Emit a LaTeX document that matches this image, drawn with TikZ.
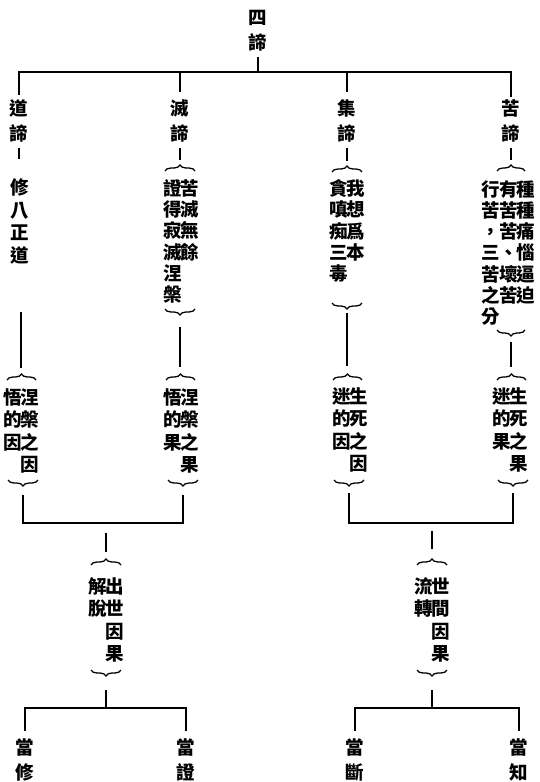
\documentclass[tikz,border=0pt]{standalone}
\usepackage{fontspec}
\newfontfamily\cjk{Noto Sans CJK TC}[LetterSpace=-6]
\usetikzlibrary{decorations.pathreplacing}

\begin{document}
\begin{tikzpicture}[x=1pt, y=-1pt, line width=1.8pt,
  lab/.style={font=\cjk\bfseries\fontsize{18.5}{25}\selectfont, inner sep=0pt, align=center},
  blk/.style={font=\cjk\bfseries\fontsize{18.5}{21.3}\selectfont, inner sep=0pt, align=left},
  blkb/.style={font=\cjk\bfseries\fontsize{18.5}{22.4}\selectfont, inner sep=0pt, align=right},
  brc/.style={decorate, decoration={brace, amplitude=6pt}, line width=1.3pt}]
\useasboundingbox (0,0) rectangle (540,782);

% Four truths
\node[lab] (si) at (258,30.5) {四\\諦};
\coordinate (top) at (258,72);
\node[lab] (dao) at (19,120.5) {道\\諦};
\node[lab] (mie) at (180,120.5) {滅\\諦};
\node[lab] (ji) at (347,120.5) {集\\諦};
\node[lab] (ku) at (511,120.5) {苦\\諦};
\draw[shorten <=5pt] (si.south) -- (top);
\draw[shorten <=3pt, shorten >=1pt] (dao.north) |- (top) -| (ku.north);
\draw[shorten >=6pt] (top -| mie) -- (mie.north);
\draw[shorten >=6pt] (top -| ji) -- (ji.north);

% Meaning of each truth
\node[blkb, align=center] (b1) at (20,221.5) {修\\八\\正\\道};
\node[blk] (b2) at (181.5,241.5) {證苦\\得滅\\寂無\\滅餘\\涅\\槃};
\node[blk] (b3) at (347.5,231) {貪我\\嗔想\\痴爲\\三本\\毒};
\node[blk] (b4) at (508.5,253) {行有種\\苦苦種\\，苦痛\\三、惱\\苦壞逼\\之苦迫\\分};
\coordinate (b2t) at (180,165); \coordinate (b2b) at (180,315);
\coordinate (b3t) at (347,166); \coordinate (b3b) at (347,309);
\coordinate (b4t) at (511,165); \coordinate (b4b) at (511,336);
\draw[brc] (165,171) -- (195,171);
\draw[brc] (195,309) -- (165,309);
\draw[brc] (332,172) -- (362,172);
\draw[brc] (362,303) -- (332,303);
\draw[brc] (497,171) -- (525,171);
\draw[brc] (525,330) -- (497,330);
\draw[shorten <=5pt, shorten >=19pt] (dao.south) -- (dao.south |- b1.north);
\draw[shorten <=5pt, shorten >=5pt] (mie.south) -- (b2t);
\draw[shorten <=5pt, shorten >=5pt] (ji.south) -- (b3t);
\draw[shorten <=5pt, shorten >=5pt] (ku.south) -- (b4t);

% Cause and effect
\node[blkb] (c1) at (21.5,431) {悟涅\\的槃\\因之\\因};
\node[blkb] (c2) at (181.5,431) {悟涅\\的槃\\果之\\果};
\node[blkb] (c3) at (350,430) {迷生\\的死\\因之\\因};
\node[blkb] (c4) at (510,430) {迷生\\的死\\果之\\果};
\coordinate (c1t) at (21,374);  \coordinate (c1b) at (23,486);
\coordinate (c2t) at (180,374); \coordinate (c2b) at (183,486);
\coordinate (c3t) at (347,374); \coordinate (c3b) at (349,486);
\coordinate (c4t) at (511,374); \coordinate (c4b) at (513,486);
\draw[brc] (7,380) -- (36,380);
\draw[brc] (38,480) -- (8,480);
\draw[brc] (166,380) -- (195,380);
\draw[brc] (198,480) -- (168,480);
\draw[brc] (333,380) -- (362,380);
\draw[brc] (364,480) -- (334,480);
\draw[brc] (497,380) -- (526,380);
\draw[brc] (528,480) -- (498,480);
\coordinate (d1) at (21,312);
\draw[shorten >=6pt] (d1) -- (c1t);
\draw[shorten <=12pt, shorten >=7pt] (b2b) -- (c2t);
\draw[shorten <=4pt, shorten >=8pt] (b3b) -- (c3t);
\draw[shorten <=6pt, shorten >=7pt] (b4b) -- (c4t);

% Two kinds of cause and effect
\node[blkb] (m1) at (106.5,620) {解出\\脫世\\因\\果};
\node[blkb] (m2) at (432,620) {流世\\轉間\\因\\果};
\coordinate (j1) at (106,523); \coordinate (j2) at (432,523);
\coordinate (m1t) at (106,559); \coordinate (m1b) at (106,676);
\coordinate (m2t) at (432,559); \coordinate (m2b) at (432,676);
\draw[brc] (91,565) -- (121,565);
\draw[brc] (121,670) -- (91,670);
\draw[brc] (417,565) -- (447,565);
\draw[brc] (447,670) -- (417,670);
\draw[shorten <=9pt, shorten >=9pt] (c1b) |- (j1) -| (c2b);
\draw[shorten <=7pt, shorten >=7pt] (c3b) |- (j2) -| (c4b);
\draw[shorten <=10pt, shorten >=7pt] (j1) -- (m1t);
\draw[shorten <=8pt, shorten >=10pt] (j2) -- (m2t);

% What to do
\node[lab] (xiu) at (25,759.5) {當\\修};
\node[lab] (zheng) at (186,759.5) {當\\證};
\node[lab] (duan) at (355,759.5) {當\\斷};
\node[lab] (zhi) at (519,759.5) {當\\知};
\coordinate (k1) at (106,708); \coordinate (k2) at (432,708);
\draw[shorten <=14pt] (m1b) -- (k1);
\draw[shorten <=14pt] (m2b) -- (k2);
\draw[shorten <=6pt, shorten >=6pt] (xiu.north) |- (k1) -| (zheng.north);
\draw[shorten <=6pt, shorten >=6pt] (duan.north) |- (k2) -| (zhi.north);
\end{tikzpicture}
\end{document}
